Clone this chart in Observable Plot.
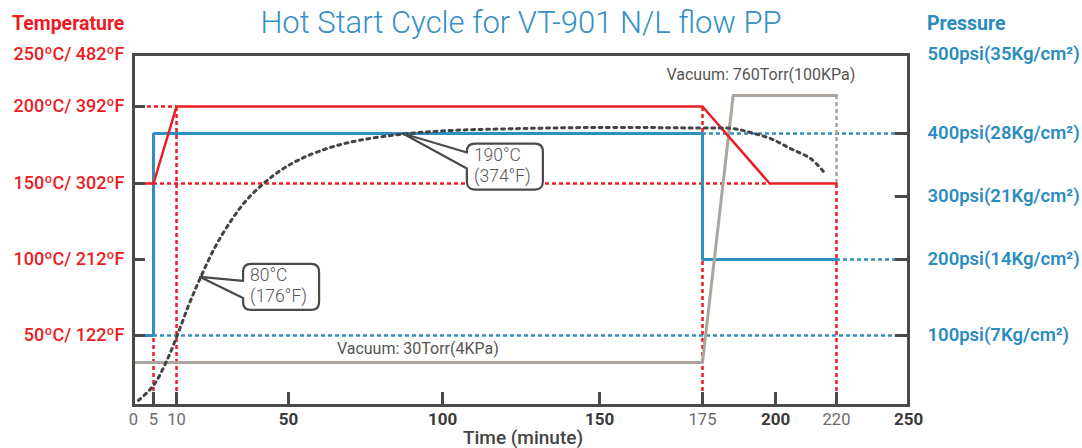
<!DOCTYPE html>
<html><head><meta charset="utf-8">
<script src="https://cdn.jsdelivr.net/npm/d3@7"></script>
<script src="https://cdn.jsdelivr.net/npm/@observablehq/plot@0.6"></script>
<style>
body{margin:0;background:#fff;font-family:Roboto,"DejaVu Sans",sans-serif;}
#chart{position:relative;width:1082px;height:448px;overflow:hidden;background:#fff}
#chart svg{position:absolute;left:0;top:0}
.hdr{position:absolute;white-space:nowrap;line-height:1}
#title{left:0;width:1042px;text-align:center;top:7px;font-size:31px;font-weight:300;color:#3590c5}
#tlab{left:12px;top:14px;font-size:19.5px;font-weight:700;color:#ed1c24}
#plab{left:927px;top:14px;font-size:19.5px;font-weight:700;color:#2b8cc0}
#xlab{left:0;width:1046px;text-align:center;top:428px;font-size:19px;font-weight:500;color:#444}
</style></head><body>
<div id="chart">
 <div class="hdr" id="title">Hot Start Cycle for VT-901 N/L flow PP</div>
 <div class="hdr" id="tlab">Temperature</div>
 <div class="hdr" id="plab">Pressure</div>
 <div class="hdr" id="xlab">Time (minute)</div>
</div>
<script>
// ---------- data ----------
const timeTicks = [0, 5, 10, 50, 100, 150, 175, 200, 220, 250];
const timeTickLabels = ["0", "5", "10", "50", "100", "150", "175", "200", "220", "250"];
const boldTimeTicks = [50, 100, 150, 200, 250];
const timeTickMarks = [5, 10, 50, 100, 150, 175, 200, 220];

const tempTicks = [50, 100, 150, 200, 250];
const tempTickLabels = ["50ºC/ 122ºF", "100ºC/ 212ºF", "150ºC/ 302ºF", "200ºC/ 392ºF", "250ºC/ 482ºF"];
const tempTickMarks = [50, 100, 150, 200];

const pressTicks = [100, 200, 300, 400, 500];
const pressTickLabels = ["100psi(7Kg/cm²)", "200psi(14Kg/cm²)", "300psi(21Kg/cm²)", "400psi(28Kg/cm²)", "500psi(35Kg/cm²)"];
const pressTickMarks = [100, 200, 300, 400];

// heater temperature (°C)
const heaterTime = [0, 5, 10, 175, 198, 220];
const heaterTemp = [150, 150, 200, 200, 150, 150];

// mold temperature (°C), dotted curve
const moldTime = [1.25, 5, 7.6, 10, 14.3, 18.6, 23.9, 29.3, 34.6, 41.1, 47.1, 53.9, 63.6, 73.4, 87.3, 102.5, 118.5, 150, 174.5, 185.3, 191.4, 198.3, 204.9, 211.5, 215.7];
const moldTemp = [3.6, 14.3, 30, 48.6, 69.7, 88.2, 108.6, 125, 138.2, 150, 158.4, 165.9, 173.4, 178.2, 182.1, 184.4, 185.4, 186.4, 186, 185.7, 183.1, 179.2, 172.7, 166.2, 157.8];

// pressure (psi)
const pressTime = [0, 5, 5, 175, 175, 220];
const pressValue = [100, 100, 400, 400, 200, 200];

// vacuum (Torr)
const vacTime = [0, 175, 185.5, 220];
const vacTorr = [30, 30, 760, 760];

// red dotted guides
const tempGuideHValue = [200, 150];
const tempGuideHFrom = [0, 5];
const tempGuideHTo = [10, 198];
const tempGuideVTime = [5, 10, 175, 220];
const tempGuideVTop = [150, 200, 200, 150];

// blue dotted guides
const pressGuideValue = [100, 400, 200];
const pressGuideFrom = [5, 175, 220];

// callouts
const calloutTime = [18.6, 87.3];
const calloutTemp = [88.2, 182.1];
const calloutLine1 = ["80°C", "190°C"];
const calloutLine2 = ["(176°F)", "(374°F)"];

// ---------- styles ----------
const RED = "#ed1c24", BLUE = "#2f8fc3", BLUE_TXT = "#2b8cc0", GRAY = "#aca59d", DARK = "#4a4a4a";
const calloutLayout = [{dx: 43, dy: -13, w: 76, h: 46, p1: 17, p2: 34}, {dx: 64, dy: 10, w: 76, h: 46, p1: 9, p2: 25}];

const xScale = {type: "linear", domain: [0, 5, 10, 50, 100, 150, 175, 200, 220, 250],
  range: [133, 153, 176, 288, 442, 599, 702, 775, 836, 908], axis: null};
const tempY = {type: "linear", domain: [0, 50, 100, 150, 200, 250], range: [405, 335, 259, 183, 106, 54], axis: null};
const pressY = {type: "linear", domain: [0, 100, 200, 300, 400, 500], range: [405, 335, 259, 196, 133, 54], axis: null};
const vacY = {type: "linear", domain: [30, 760], range: [362, 95], axis: null};

function layer(y, marks) {
  return Plot.plot({
    width: 1082, height: 448,
    marginLeft: 133, marginRight: 174, marginTop: 54, marginBottom: 43,
    style: {background: "transparent", overflow: "visible", fontFamily: "Roboto, sans-serif"},
    x: xScale, y, marks
  });
}

function callouts(index, scales) {
  const g = d3.create("svg:g");
  calloutTime.forEach((t, i) => {
    const tx = scales.x(t), ty = scales.y(calloutTemp[i]);
    const b = calloutLayout[i];
    const L = tx + b.dx, T = ty + b.dy, R = L + b.w, B = T + b.h, r = 8;
    const d = `M${tx},${ty} L${L},${T + b.p1} L${L},${T + r} Q${L},${T} ${L + r},${T} L${R - r},${T} Q${R},${T} ${R},${T + r} L${R},${B - r} Q${R},${B} ${R - r},${B} L${L + r},${B} Q${L},${B} ${L},${B - r} L${L},${T + b.p2} Z`;
    g.append("path").attr("d", d).attr("fill", "white").attr("stroke", DARK)
      .attr("stroke-width", 2.2).attr("stroke-linejoin", "round");
    [calloutLine1[i], calloutLine2[i]].forEach((s, k) => {
      g.append("text").attr("x", L + 7).attr("y", T + 17 + k * 21).text(s)
        .attr("text-anchor", "start").attr("font-size", 17.5).attr("font-weight", 300)
        .attr("fill", "#555").attr("font-family", "Roboto, sans-serif");
    });
  });
  return g.node();
}

// Layer 1: red dotted guides (temperature)
const L1 = layer(tempY, [
  Plot.ruleY(tempGuideHValue, {y: d => d, x1: (d, i) => tempGuideHFrom[i], x2: (d, i) => tempGuideHTo[i],
    stroke: RED, strokeWidth: 2.5, strokeDasharray: "4,3"}),
  Plot.ruleX(tempGuideVTime, {x: d => d, y1: 0, y2: (d, i) => tempGuideVTop[i],
    stroke: RED, strokeWidth: 2.5, strokeDasharray: "4,3"})
]);

// Layer 2: pressure
const L2 = layer(pressY, [
  Plot.ruleY(pressGuideValue, {y: d => d, x1: (d, i) => pressGuideFrom[i], x2: 250,
    stroke: BLUE, strokeWidth: 2.5, strokeDasharray: "4,3"}),
  Plot.line(pressTime, {x: d => d, y: (d, i) => pressValue[i], stroke: BLUE, strokeWidth: 3, strokeLinejoin: "miter"}),
  Plot.ruleY(pressTickMarks, {y: d => d, x1: 244.5, x2: 250, stroke: DARK, strokeWidth: 3}),
  Plot.text(pressTicks, {y: d => d, text: (d, i) => pressTickLabels[i], frameAnchor: "right", textAnchor: "start",
    dx: 19, fill: BLUE_TXT, fontSize: 18.5, fontWeight: 600})
]);

// Layer 3: vacuum
const L3 = layer(vacY, [
  Plot.line(vacTime, {x: d => d, y: (d, i) => vacTorr[i], stroke: GRAY, strokeWidth: 3}),
  Plot.ruleX([220], {x: d => d, y1: 760, y2: 520, stroke: GRAY, strokeWidth: 2.5, strokeDasharray: "4,3"}),
  Plot.text(["Vacuum: 30Torr(4KPa)"], {x: 92, y: 30, dy: -14, text: d => d, fill: "#555", fontSize: 16}),
  Plot.text(["Vacuum: 760Torr(100KPa)"], {x: 195, y: 760, dy: -21, text: d => d, fill: "#555", fontSize: 16})
]);

// Layer 4: temperature lines, axes, frame
const L4 = layer(tempY, [
  Plot.line(heaterTime, {x: d => d, y: (d, i) => heaterTemp[i], stroke: RED, strokeWidth: 2.5}),
  Plot.line(moldTime, {x: d => d, y: (d, i) => moldTemp[i], curve: "catmull-rom",
    stroke: "#444", strokeWidth: 3, strokeDasharray: "3,4.5"}),
  callouts,
  Plot.ruleY(tempTickMarks, {y: d => d, x1: 0, x2: 3, stroke: DARK, strokeWidth: 3}),
  Plot.ruleX(timeTickMarks, {x: d => d, y1: 0, y2: 9.3, stroke: DARK, strokeWidth: 3}),
  Plot.frame({stroke: DARK, strokeWidth: 3}),
  Plot.text(tempTicks, {y: d => d, text: (d, i) => tempTickLabels[i], frameAnchor: "left", textAnchor: "end",
    dx: -9, fill: RED, fontSize: 18, fontWeight: 500}),
  Plot.text(timeTicks.filter(d => !boldTimeTicks.includes(d)), {x: d => d, text: d => timeTickLabels[timeTicks.indexOf(d)],
    frameAnchor: "bottom", dy: 19, fill: "#6b6b6b", fontSize: 16.5}),
  Plot.text(boldTimeTicks, {x: d => d, text: d => timeTickLabels[timeTicks.indexOf(d)],
    frameAnchor: "bottom", dy: 19, fill: "#3a3a3a", fontSize: 17, fontWeight: 700})
]);

const chart = document.getElementById("chart");
[L1, L2, L3, L4].forEach(s => chart.appendChild(s));
</script>
</body></html>
